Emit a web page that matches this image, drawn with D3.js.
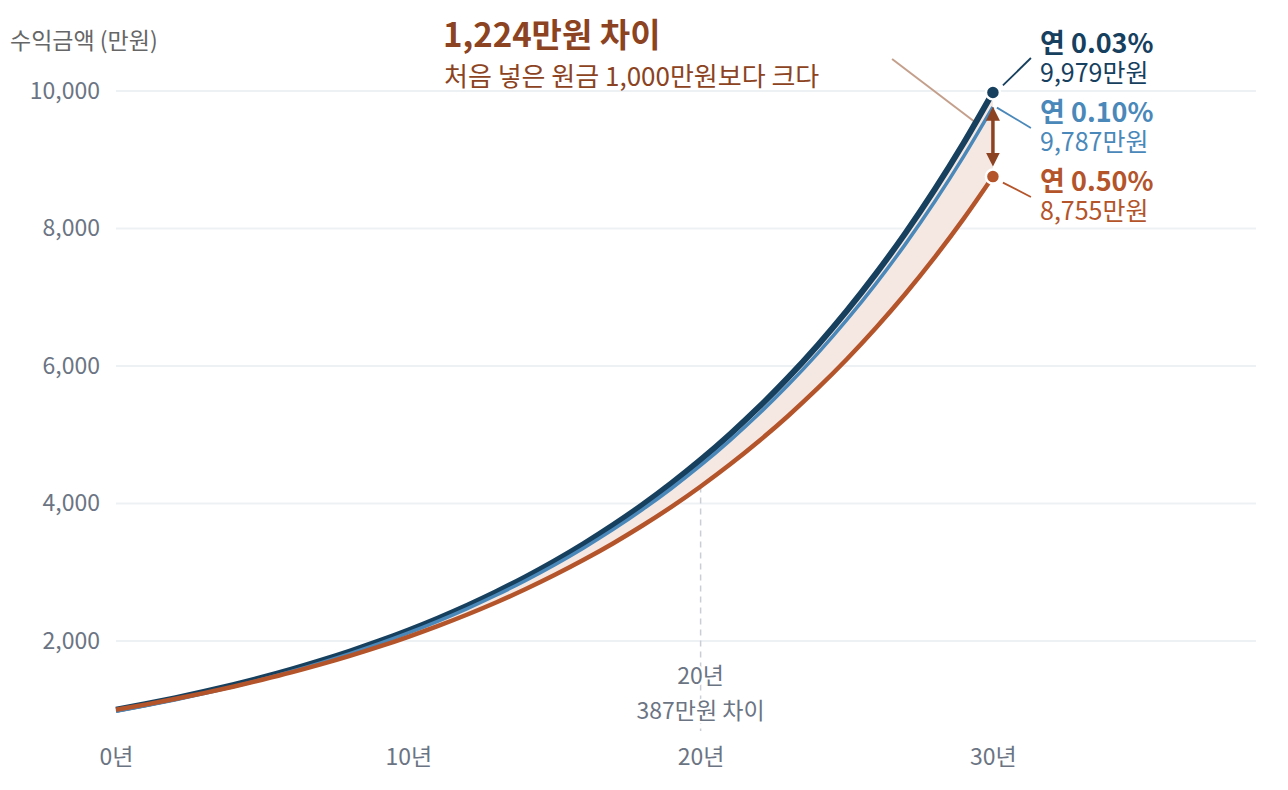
<!DOCTYPE html>
<html>
<head>
<meta charset="utf-8">
<script src="https://cdn.jsdelivr.net/npm/d3@7"></script>
<style>
  html, body { margin: 0; padding: 0; background: #fff; }
  svg { display: block; font-family: "Noto Sans CJK KR", "Noto Sans", sans-serif; }
</style>
</head>
<body>
<svg id="chart" width="1288" height="790"></svg>
<script>
// values (만원, per year)
const years = d3.range(0, 31);
const fee003 = [1000,1080,1166,1259,1359,1467,1584,1711,1847,1994,2153,2325,2510,2710,2926,3159,3411,3683,3976,4293,4635,5005,5404,5834,6299,6801,7344,7929,8561,9243,9979];
const fee010 = [1000,1079,1164,1256,1355,1463,1578,1703,1837,1982,2139,2308,2490,2687,2899,3128,3376,3642,3930,4240,4575,4937,5327,5748,6202,6692,7220,7791,8406,9070,9787];
const fee050 = [1000,1075,1156,1242,1335,1436,1543,1659,1783,1917,2061,2216,2382,2560,2752,2959,3181,3419,3676,3951,4248,4566,4909,5277,5673,6098,6556,7047,7576,8144,8755];
const yTicks = [2000, 4000, 6000, 8000, 10000];
const xTicks = [0, 10, 20, 30];
const labels = [
  { name: "연 0.03%", value: "9,979만원" },
  { name: "연 0.10%", value: "9,787만원" },
  { name: "연 0.50%", value: "8,755만원" }
];
const markYear = 20;

const colors = { navy: "#17405f", blue: "#4b88ba", orange: "#b4542b", brown: "#8c4322", fill: "#f5e8e2", axis: "#6b7483", grid: "#eef1f4" };

const svg = d3.select("#chart");
const x = d3.scaleLinear([0, 39], [116, 1256]);
const y = d3.scaleLinear([2000, 10000], [641, 91]);

// grid
svg.append("g")
  .selectAll("line")
  .data(yTicks)
  .join("line")
    .attr("x1", x(0)).attr("x2", x(39))
    .attr("y1", d => y(d)).attr("y2", d => y(d))
    .attr("stroke", colors.grid).attr("stroke-width", 2);

// y axis labels
const yAxis = d3.axisLeft(y).tickValues(yTicks).tickFormat(d3.format(",")).tickSize(0).tickPadding(0);
svg.append("g")
  .attr("transform", "translate(100,0)")
  .call(yAxis)
  .call(g => g.select(".domain").remove())
  .call(g => g.selectAll("text")
      .attr("fill", colors.axis).attr("font-size", 23)
      .attr("font-family", "Noto Sans CJK KR"));

// x axis labels
const xAxis = d3.axisBottom(x).tickValues(xTicks).tickFormat(d => d + "년").tickSize(0).tickPadding(0);
svg.append("g")
  .attr("transform", "translate(0,749)")
  .call(xAxis)
  .call(g => g.select(".domain").remove())
  .call(g => g.selectAll("text")
      .attr("fill", colors.axis).attr("font-size", 23)
      .attr("font-family", "Noto Sans CJK KR"));

svg.append("text")
  .attr("x", 10).attr("y", 49)
  .attr("fill", "#666").attr("font-size", 23)
  .text("수익금액 (만원)");

// 20-year marker
svg.append("line")
  .attr("x1", x(markYear)).attr("x2", x(markYear))
  .attr("y1", y(fee050[markYear])).attr("y2", 731)
  .attr("stroke", "#c9ced6").attr("stroke-width", 1.5)
  .attr("stroke-dasharray", "6,5");

svg.append("text")
  .attr("x", x(markYear)).attr("y", 684)
  .attr("text-anchor", "middle").attr("fill", colors.axis).attr("font-size", 23)
  .attr("paint-order", "stroke").attr("stroke", "#fff").attr("stroke-width", 4)
  .text(markYear + "년");
svg.append("text")
  .attr("x", x(markYear)).attr("y", 719)
  .attr("text-anchor", "middle").attr("fill", colors.axis).attr("font-size", 23)
  .attr("paint-order", "stroke").attr("stroke", "#fff").attr("stroke-width", 4)
  .text(d3.format(",")(fee003[markYear] - fee050[markYear]) + "만원 차이");

// area between best and worst
const area = d3.area()
  .x((d, i) => x(years[i]))
  .y0((d, i) => y(fee050[i]))
  .y1((d, i) => y(fee003[i]))
  .curve(d3.curveMonotoneX);
svg.append("path")
  .datum(years)
  .attr("d", area)
  .attr("fill", colors.fill);

// callout line to the gap
svg.append("line")
  .attr("x1", x(26.55)).attr("y1", y(10465))
  .attr("x2", x(29.35)).attr("y2", y(9560))
  .attr("stroke", "#c4a08c").attr("stroke-width", 2);

const line = d3.line()
  .x((d, i) => x(years[i]))
  .y(d => y(d))
  .curve(d3.curveMonotoneX);

svg.append("path").datum(fee003).attr("d", line)
  .attr("fill", "none").attr("stroke", colors.navy).attr("stroke-width", 6);
svg.append("path").datum(fee010).attr("d", line)
  .attr("fill", "none").attr("stroke", colors.blue).attr("stroke-width", 3.5)
  .attr("transform", "translate(0,1.5)");
svg.append("path").datum(fee050).attr("d", line)
  .attr("fill", "none").attr("stroke", colors.orange).attr("stroke-width", 4.5);

// double arrow for the final gap
const last = years.length - 1;
const defs = svg.append("defs");
["start", "end"].forEach(k => {
  defs.append("marker")
    .attr("id", "arrow-" + k)
    .attr("viewBox", "0 0 10 10").attr("refX", 5).attr("refY", 5)
    .attr("markerWidth", 4).attr("markerHeight", 4)
    .attr("orient", "auto-start-reverse")
    .append("path").attr("d", "M0,0 L10,5 L0,10 Z").attr("fill", colors.brown);
});
svg.append("line")
  .attr("x1", x(last)).attr("x2", x(last))
  .attr("y1", y(fee010[last]) + 8).attr("y2", y(fee050[last]) - 17)
  .attr("stroke", colors.brown).attr("stroke-width", 3.5)
  .attr("marker-start", "url(#arrow-start)")
  .attr("marker-end", "url(#arrow-end)");

// end dots
svg.append("circle").attr("cx", x(last)).attr("cy", y(fee003[last])).attr("r", 7)
  .attr("fill", colors.navy).attr("stroke", "#fff").attr("stroke-width", 2.5);
svg.append("circle").attr("cx", x(last)).attr("cy", y(fee050[last])).attr("r", 7)
  .attr("fill", colors.orange).attr("stroke", "#fff").attr("stroke-width", 2.5);

// leader lines
const lx = x(last);
svg.append("line").attr("x1", lx + 10).attr("y1", y(fee003[last]) - 7).attr("x2", lx + 38).attr("y2", 58)
  .attr("stroke", colors.navy).attr("stroke-width", 1.8);
svg.append("line").attr("x1", lx + 4).attr("y1", y(fee010[last]) + 2).attr("x2", lx + 38).attr("y2", 128)
  .attr("stroke", colors.blue).attr("stroke-width", 1.8);
svg.append("line").attr("x1", lx + 10).attr("y1", y(fee050[last]) + 6).attr("x2", lx + 38).attr("y2", 197)
  .attr("stroke", colors.orange).attr("stroke-width", 1.8);

// end labels
const labelBase = [53, 122, 191];
const labelColors = [colors.navy, colors.blue, colors.orange];
labels.forEach((l, i) => {
  svg.append("text")
    .attr("x", 1040).attr("y", labelBase[i])
    .attr("fill", labelColors[i]).attr("font-size", 27).attr("font-weight", 700)
    .text(l.name);
  svg.append("text")
    .attr("x", 1040).attr("y", labelBase[i] + 29)
    .attr("fill", labelColors[i]).attr("font-size", 25)
    .text(l.value);
});

// headline
svg.append("text")
  .attr("x", 443).attr("y", 47)
  .attr("fill", colors.brown).attr("font-size", 33).attr("font-weight", 700)
  .text(d3.format(",")(fee003[last] - fee050[last]) + "만원 차이");
svg.append("text")
  .attr("x", 444).attr("y", 86)
  .attr("fill", colors.brown).attr("font-size", 26)
  .text("처음 넣은 원금 1,000만원보다 크다");
</script>
</body>
</html>
